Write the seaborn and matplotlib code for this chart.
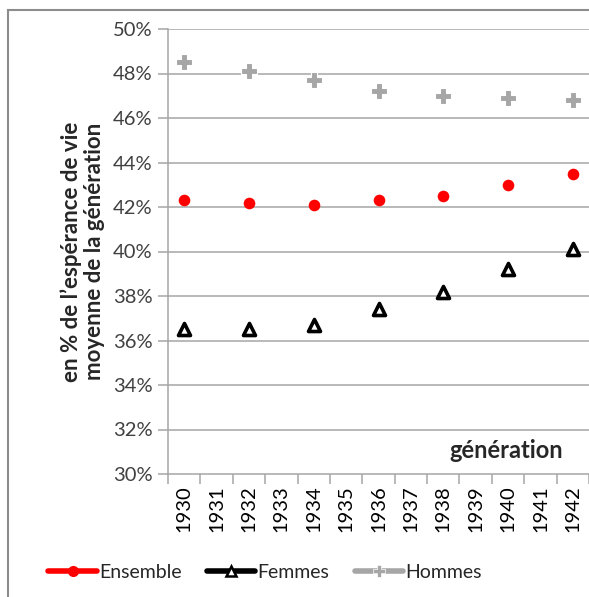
import matplotlib
matplotlib.use("Agg")
import matplotlib.pyplot as plt
from matplotlib.lines import Line2D
from matplotlib.patches import Rectangle
from matplotlib.ticker import FixedLocator, FuncFormatter
import seaborn as sns
import pandas as pd

sns.set_style("white")
plt.rcParams["font.family"] = ["Lato", "DejaVu Sans"]

# Generations (all years shown on the axis, values for even years)
years_axis = list(range(1930, 1943))
years = [1930, 1932, 1934, 1936, 1938, 1940, 1942]
ensemble = [42.3, 42.2, 42.1, 42.3, 42.5, 43.0, 43.5]
femmes = [36.5, 36.5, 36.7, 37.4, 38.2, 39.2, 40.1]
hommes = [48.5, 48.1, 47.7, 47.2, 47.0, 46.9, 46.8]
y_ticks = [30, 32, 34, 36, 38, 40, 42, 44, 46, 48, 50]

df = pd.DataFrame({
    "annee": years * 3,
    "valeur": ensemble + femmes + hommes,
    "serie": ["Ensemble"] * 7 + ["Femmes"] * 7 + ["Hommes"] * 7,
})

fig = plt.figure(figsize=(5.89, 5.97), dpi=100)
ax = fig.add_axes([168 / 589, 1 - 474 / 597, (589 - 168) / 589, (474 - 29) / 597])

grid_col = "#A6A6A6"
for t in y_ticks[1:]:
    ax.axhline(t, color=grid_col, lw=1.1, zorder=0)

sns.scatterplot(data=df[df.serie == "Hommes"], x="annee", y="valeur", ax=ax,
                marker="P", s=120, color="#A6A6A6", edgecolor="white",
                linewidth=0.8, legend=False, zorder=3)
sns.scatterplot(data=df[df.serie == "Ensemble"], x="annee", y="valeur", ax=ax,
                marker="o", s=70, color="#FF0000", edgecolor="#FF0000",
                linewidth=0, legend=False, zorder=3)
sns.scatterplot(data=df[df.serie == "Femmes"], x="annee", y="valeur", ax=ax,
                marker="^", s=75, color="white", edgecolor="black",
                linewidth=2.6, legend=False, zorder=3)

ax.set_xlim(1929.5, 1942.5)
ax.set_ylim(30, 50)
ax.set_yticks(y_ticks)
ax.yaxis.set_major_formatter(FuncFormatter(lambda v, p: f"{v:.0f}%"))
ax.set_xticks(years_axis)
ax.set_xticklabels([str(y) for y in years_axis], rotation=90)
ax.xaxis.set_minor_locator(FixedLocator([y + 0.5 for y in range(1929, 1943)]))
ax.tick_params(axis="x", which="major", length=0, pad=8, labelsize=14.5, colors="#000000")
ax.tick_params(axis="x", which="minor", length=7, width=1.1, color=grid_col, direction="out")
ax.tick_params(axis="y", which="major", length=7, width=1.1, color=grid_col,
               direction="out", pad=4, labelsize=14.5, labelcolor="#404040")
ax.tick_params(axis="y", left=True)
ax.tick_params(axis="x", bottom=True, which="both")

for side in ["top", "right"]:
    ax.spines[side].set_visible(False)
for side in ["left", "bottom"]:
    ax.spines[side].set_color(grid_col)
    ax.spines[side].set_linewidth(1.1)

ax.set_xlabel("")
ax.set_ylabel("en % de l’espérance de vie\nmoyenne de la génération",
              fontsize=16, fontweight="bold", labelpad=6, linespacing=1.1)

ax.text(0.938, 0.052, "génération", transform=ax.transAxes, ha="right", va="center",
        fontsize=17, fontweight="bold")

handles = [
    Line2D([0], [0], color="#FF0000", lw=4, marker="o", markersize=7,
           markerfacecolor="#FF0000", markeredgecolor="#FF0000"),
    Line2D([0], [0], color="black", lw=4, marker="^", markersize=7,
           markerfacecolor="white", markeredgecolor="black", markeredgewidth=1.8),
    Line2D([0], [0], color="#A6A6A6", lw=4, marker="P", markersize=8,
           markerfacecolor="#A6A6A6", markeredgecolor="white", markeredgewidth=0.5),
]
fig.legend(handles, ["Ensemble", "Femmes", "Hommes"], loc="center",
           bbox_to_anchor=(265 / 589, 1 - 572 / 597), ncol=3, frameon=False,
           fontsize=14, handlelength=2.5, handletextpad=0.1, columnspacing=1.3)

fig.add_artist(Rectangle((8 / 589, -0.05), 1.2, 1 - 10 / 597 + 0.05,
                         transform=fig.transFigure, fill=False,
                         edgecolor="#8C8C8C", lw=1.5))

fig.savefig("out.png", dpi=100)
